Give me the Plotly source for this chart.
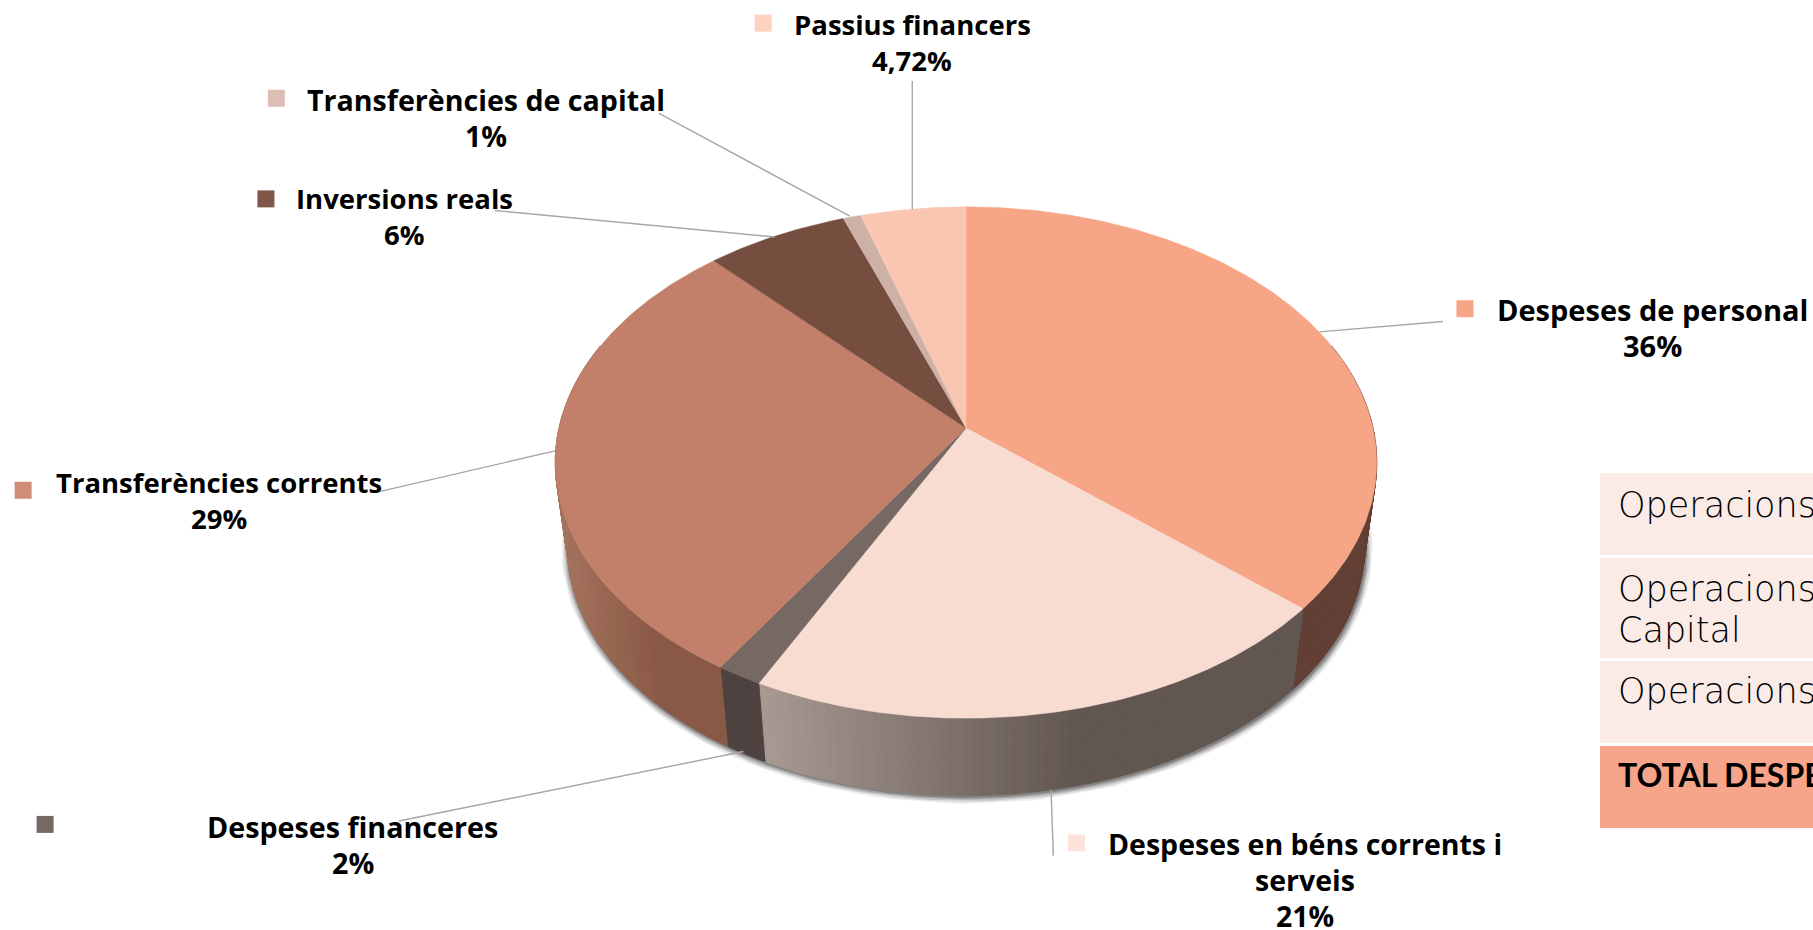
import numpy as np
import plotly.graph_objects as go

categories = ["Despeses de personal", "Despeses en béns corrents i serveis", "Despeses financeres",
              "Transferències corrents", "Inversions reals", "Transferències de capital", "Passius financers"]
values = [36.4, 21.0, 1.6, 29.1, 6.4, 0.8, 4.72]
value_labels = ["36%", "21%", "2%", "29%", "6%", "1%", "4,72%"]
top_colors = ["#F7A587", "#F9DCD1", "#766862", "#C27F6A", "#754E40", "#CDB1A7", "#F9C6B1"]
side_left = ["#623F35", "#A89A92", "#4E4240", "#A5735E", "#5A3C31", "#9A8279", "#B89484"]
side_right = ["#623F35", "#625651", "#4E4240", "#8A5945", "#5A3C31", "#9A8279", "#B89484"]
marker_colors = ["#F7A587", "#FBE3D9", "#766862", "#D08D76", "#80574A", "#DDBEB4", "#FFD2BF"]
label_lines = [["Despeses de personal"], ["Despeses en béns corrents i", "serveis"], ["Despeses financeres"],
               ["Transferències corrents"], ["Inversions reals"], ["Transferències de capital"], ["Passius financers"]]
table_rows = [["Operacions"], ["Operacions", "Capital"], ["Operacions"], ["TOTAL DESPE"]]

W, H = 1813, 930
S = W / 1568
FONT = "Open Sans"
# projection of the pie disc
CX, CY, A, B, K = 966, 428, 407, 251, 0.135
SHRINK, CY2 = 0.97, 514


def rim(deg, bottom=False):
    t = np.radians(deg)
    u, v = np.sin(t), np.cos(t)
    x = A * u / (1 + K * v)
    y = -B * v / (1 + K * v)
    if bottom:
        return CX + SHRINK * x, CY2 + SHRINK * y
    return CX + x, CY + y


def mix(c0, c1, t):
    a = [int(c0[i:i + 2], 16) for i in (1, 3, 5)]
    b = [int(c1[i:i + 2], 16) for i in (1, 3, 5)]
    return "rgb(%d,%d,%d)" % tuple(round(p + (q - p) * t) for p, q in zip(a, b))


fig = go.Figure()
skip = dict(hoverinfo="skip", showlegend=False)

# soft shadow under the rim
arc = np.linspace(78, 282, 160)
sx, sy = rim(arc, bottom=True)
for w, al in [(15, .07), (12, .10), (9, .14), (6, .2), (3, .3)]:
    fig.add_trace(go.Scatter(x=sx + 1, y=sy + 1, mode="lines", line=dict(color=f"rgba(50,50,50,{al})", width=w), **skip))

# slice boundaries
total = sum(values)
edges = np.concatenate([[0], np.cumsum(values) / total * 360])

# side wall
for i in range(len(values)):
    lo, hi = max(edges[i], 70), min(edges[i + 1], 290)
    if hi <= lo:
        continue
    n = max(1, int(hi - lo))
    angs = np.linspace(lo, hi, n + 1)
    xs_all = rim(angs)[0]
    x0, x1 = xs_all.min(), xs_all.max()
    for a0, a1 in zip(angs[:-1], angs[1:]):
        ang = np.linspace(a0, a1, 3)
        tx, ty = rim(ang)
        bx, by = rim(ang[::-1], bottom=True)
        xm = (tx[0] + tx[-1]) / 2
        t = min(1, (xm - x0) / max(1, x1 - x0) * 1.7)
        c = mix(side_left[i], side_right[i], t)
        fig.add_trace(go.Scatter(x=np.r_[tx, bx, tx[0]], y=np.r_[ty, by, ty[0]], mode="lines", fill="toself",
                                 fillcolor=c, line=dict(color=c, width=1), **skip))

# top faces
for i, name in enumerate(categories):
    ang = np.linspace(edges[i], edges[i + 1], max(3, int(values[i] * 6)))
    rx, ry = rim(ang)
    fig.add_trace(go.Scatter(x=np.r_[CX, rx, CX], y=np.r_[CY, ry, CY], mode="lines", fill="toself",
                             fillcolor=top_colors[i], line=dict(color=top_colors[i], width=0.5),
                             name=name, showlegend=False,
                             text=f"{name}: {value_labels[i]}", hoverinfo="text"))

# leader lines
leaders = [((1248, 278), (1141, 287)), ((911, 740), (909, 683)), ((345, 710), (643, 650)),
           ((329, 425), (480, 390)), ((428, 182), (670, 205)), ((570, 98), (735, 187)), ((789, 70), (789, 181))]
for p, q in leaders:
    fig.add_trace(go.Scatter(x=[p[0] * S, q[0] * S], y=[p[1] * S, q[1] * S], mode="lines",
                             line=dict(color="#A6A6A6", width=1.4), **skip))

# legend-key squares
keys = [(1267, 267), (931, 729), (39, 713), (20, 424), (230, 172), (239, 85), (660, 20)]
fig.add_trace(go.Scatter(x=[k[0] * S for k in keys], y=[k[1] * S for k in keys], mode="markers",
                         marker=dict(symbol="square", size=17, color=marker_colors, line=dict(width=0)), **skip))

# labels: x centre, first-line y, font size
centres = [(1429, 268), (1129, 730), (305, 715), (189, 417), (350, 172), (420, 86), (789, 21)]
sizes = [29, 28.5, 28.7, 27.5, 27.5, 28.6, 27.5]
annots = []
for (cx, cy), lines, v, fs in zip(centres, label_lines, value_labels, sizes):
    for j, line in enumerate(lines + [v]):
        annots.append(dict(x=cx * S, y=cy * S + j * 36, xref="x", yref="y", text=f"<b>{line}</b>", showarrow=False,
                           xanchor="center", yanchor="middle", align="center",
                           font=dict(family=FONT, size=fs, color="#000000")))

# table
row_y = [(473, 555), (558, 658), (661, 743), (746, 828)]
row_fill = ["#FBEBE7", "#FBEBE7", "#FBEBE7", "#F6A48A"]
shapes = [dict(type="rect", xref="x", yref="y", x0=1600, x1=1813, y0=a, y1=b, fillcolor=c, line=dict(width=0), layer="below")
          for (a, b), c in zip(row_y, row_fill)]
text_y = [[505], [589, 630], [691], [774]]
for i, (rows, ys) in enumerate(zip(table_rows, text_y)):
    for t, y in zip(rows, ys):
        bold = i == 3
        annots.append(dict(x=1616, y=y, xref="x", yref="y", text=f"<b>{t}</b>" if bold else t, showarrow=False,
                           xanchor="left", yanchor="middle", align="left",
                           font=dict(family="Lato" if bold else "DejaVu Sans", size=32 if bold else 35, color="#000000",
                                     weight=700 if bold else 200)))

fig.update_layout(width=W, height=H, margin=dict(l=0, r=0, t=0, b=0), paper_bgcolor="white", plot_bgcolor="white",
                  xaxis=dict(range=[0, W], visible=False, fixedrange=True),
                  yaxis=dict(range=[H, 0], visible=False, fixedrange=True),
                  shapes=shapes, annotations=annots, showlegend=False)
fig.write_html("out.html", post_script="document.body.style.margin='0';document.body.style.overflow='hidden';",
               config={"displayModeBar": False})
